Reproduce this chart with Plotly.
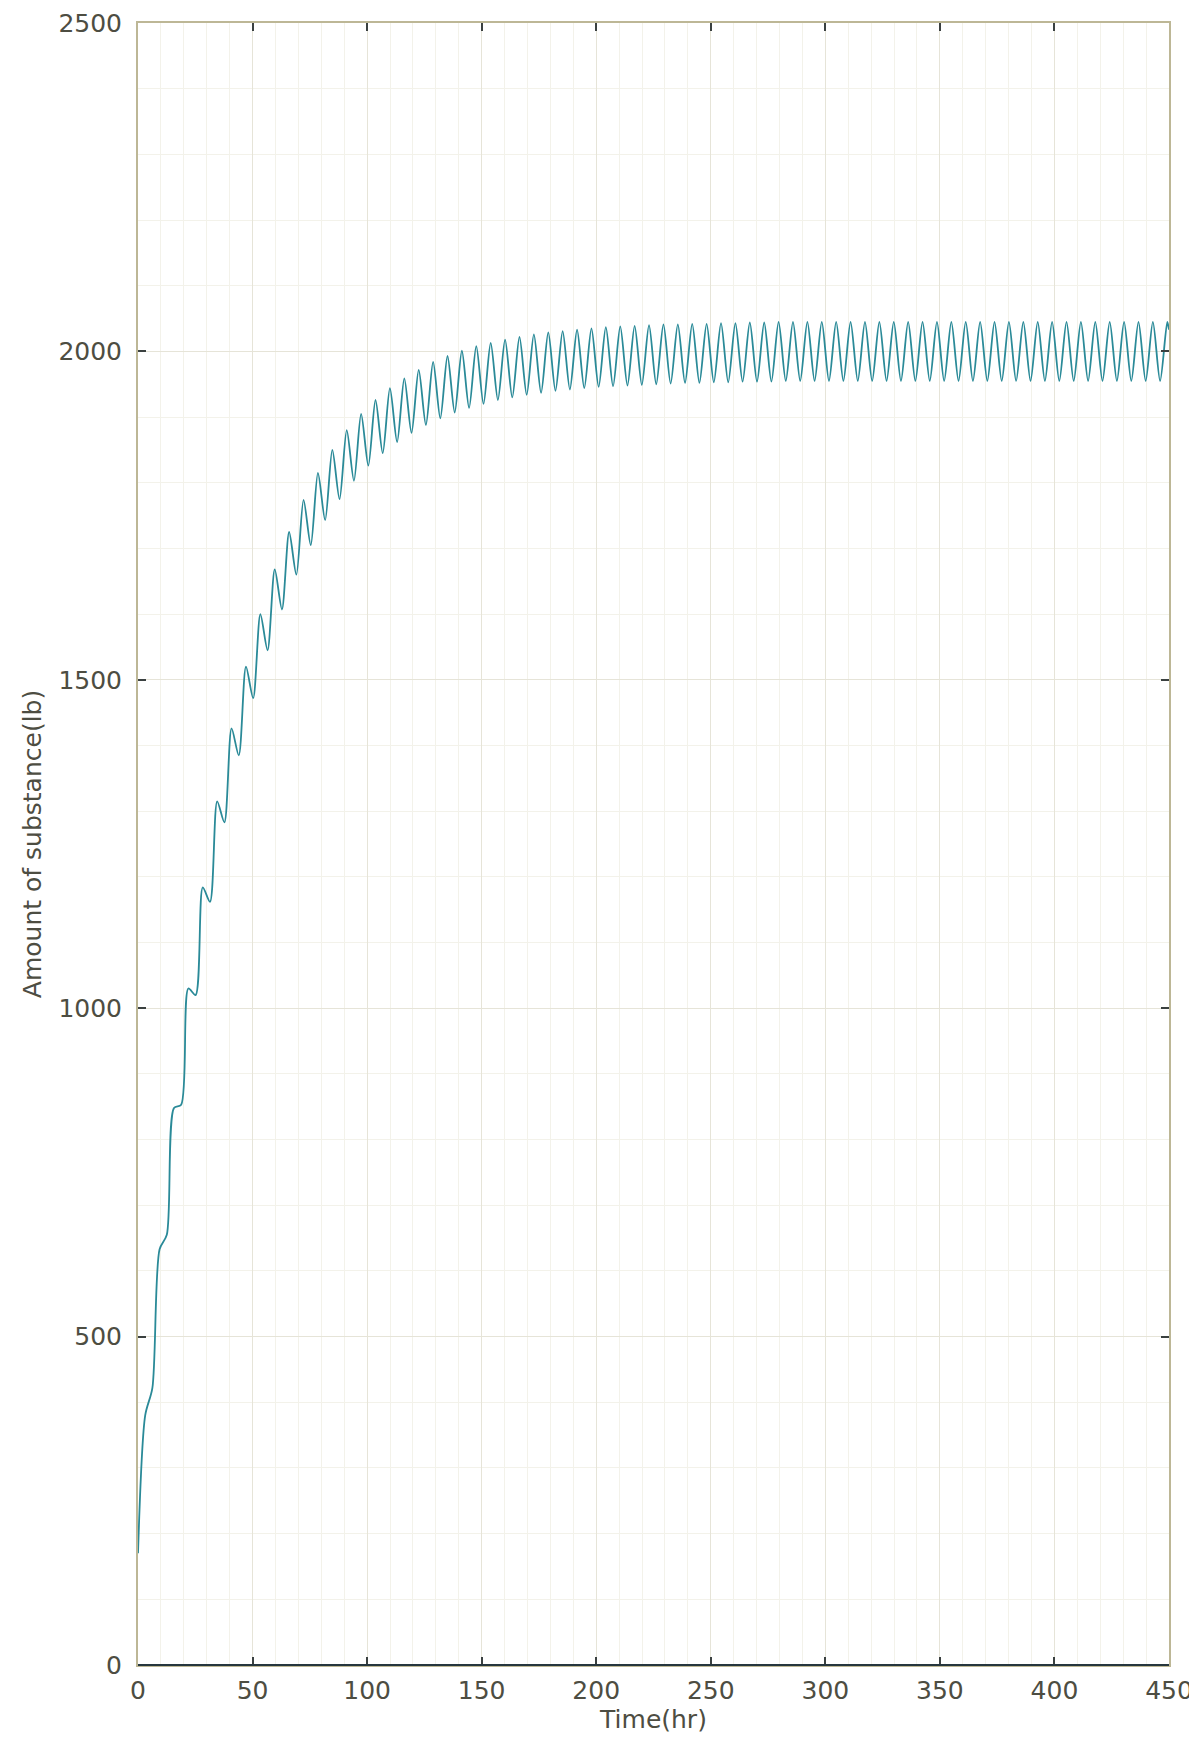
import plotly.graph_objects as go

# Time (hr) of successive turning points
time_hr = [
    0, 3.14, 6.28, 9.42, 12.57, 15.71, 18.85, 21.99, 25.13, 28.27,
    31.42, 34.56, 37.70, 40.84, 43.98, 47.12, 50.27, 53.41, 56.55, 59.69,
    62.83, 65.97, 69.12, 72.26, 75.40, 78.54, 81.68, 84.82, 87.96, 91.11,
    94.25, 97.39, 100.53, 103.67, 106.81, 109.96, 113.10, 116.24, 119.38, 122.52,
    125.66, 128.81, 131.95, 135.09, 138.23, 141.37, 144.51, 147.65, 150.80, 153.94,
    157.08, 160.22, 163.36, 166.50, 169.65, 172.79, 175.93, 179.07, 182.21, 185.35,
    188.50, 191.64, 194.78, 197.92, 201.06, 204.20, 207.35, 210.49, 213.63, 216.77,
    219.91, 223.05, 226.19, 229.34, 232.48, 235.62, 238.76, 241.90, 245.04, 248.19,
    251.33, 254.47, 257.61, 260.75, 263.89, 267.04, 270.18, 273.32, 276.46, 279.60,
    282.74, 285.88, 289.03, 292.17, 295.31, 298.45, 301.59, 304.73, 307.88, 311.02,
    314.16, 317.30, 320.44, 323.58, 326.73, 329.87, 333.01, 336.15, 339.29, 342.43,
    345.58, 348.72, 351.86, 355.00, 358.14, 361.28, 364.42, 367.57, 370.71, 373.85,
    376.99, 380.13, 383.27, 386.42, 389.56, 392.70, 395.84, 398.98, 402.12, 405.27,
    408.41, 411.55, 414.69, 417.83, 420.97, 424.12, 427.26, 430.40, 433.54, 436.68,
    439.82, 442.96, 446.11, 449.25, 450.0,
]

# Amount of substance (lb) at those points
amount_lb = [
    170, 380, 422, 633, 655, 848, 853, 1030, 1020, 1184,
    1162, 1315, 1283, 1426, 1385, 1520, 1472, 1600, 1545, 1668,
    1607, 1725, 1660, 1774, 1705, 1815, 1743, 1850, 1775, 1880,
    1803, 1905, 1826, 1926, 1845, 1944, 1862, 1959, 1876, 1972,
    1888, 1984, 1898, 1993, 1907, 2001, 1914, 2008, 1920, 2013,
    1926, 2018, 1930, 2022, 1934, 2026, 1937, 2029, 1940, 2031,
    1942, 2033, 1944, 2035, 1946, 2037, 1947, 2038, 1948, 2039,
    1949, 2040, 1950, 2041, 1951, 2041, 1952, 2042, 1952, 2042,
    1953, 2043, 1953, 2043, 1954, 2044, 1954, 2044, 1954, 2045,
    1955, 2045, 1955, 2045, 1955, 2045, 1955, 2045, 1955, 2045,
    1955, 2045, 1955, 2045, 1955, 2045, 1955, 2045, 1955, 2045,
    1955, 2045, 1955, 2045, 1955, 2045, 1955, 2045, 1955, 2045,
    1955, 2045, 1955, 2045, 1955, 2045, 1955, 2045, 1955, 2045,
    1955, 2045, 1955, 2045, 1955, 2045, 1955, 2045, 1955, 2045,
    1955, 2045, 1955, 2045, 2033,
]

x_ticks = [0, 50, 100, 150, 200, 250, 300, 350, 400, 450]
y_ticks = [0, 500, 1000, 1500, 2000, 2500]

assert len(time_hr) == len(amount_lb)

FONT = "DejaVu Sans"
LABEL_COLOR = "#4d4d42"
FRAME_COLOR = "#bdb796"
FS = 25

fig = go.Figure()
fig.add_trace(go.Scatter(
    x=time_hr, y=amount_lb, mode="lines",
    line=dict(color="#2a8a98", width=1.8, shape="spline", smoothing=0.8),
    showlegend=False,
))

axis_common = dict(
    ticks="inside", ticklen=8, tickwidth=1.5, tickcolor="#3a4040",
    showline=True, linecolor=FRAME_COLOR, linewidth=2, mirror="ticks",
    showgrid=True, gridcolor="#e6e4d8", gridwidth=1, zeroline=False,
    automargin=False,
    tickfont=dict(family=FONT, size=FS, color=LABEL_COLOR),
)

fig.update_xaxes(
    range=[0, 450], tickvals=x_ticks, ticktext=[str(v) for v in x_ticks],
    minor=dict(dtick=10, tick0=0, showgrid=True, gridcolor="#f3f2ea", ticks=""),
    ticklabelstandoff=2,
    title=dict(text="Time(hr)", font=dict(family=FONT, size=FS, color=LABEL_COLOR), standoff=2),
    **axis_common,
)
fig.update_yaxes(
    range=[0, 2500], tickvals=y_ticks, ticktext=[str(v) for v in y_ticks],
    minor=dict(dtick=100, tick0=0, showgrid=True, gridcolor="#f3f2ea", ticks=""),
    ticklabelstandoff=9,
    title=dict(text="Amount of substance(lb)", font=dict(family=FONT, size=FS, color=LABEL_COLOR), standoff=10),
    **axis_common,
)

# darker bottom frame line as in the reference
fig.add_shape(type="line", xref="paper", yref="paper", x0=0, x1=1, y0=0, y1=0,
              line=dict(color="#26363e", width=2))

# the page body adds an 8px offset; margins compensate so the frame sits
# where the reference frame is
fig.update_layout(
    width=1189, height=1726, autosize=False,
    margin=dict(l=130, r=28, t=15, b=69),
    plot_bgcolor="white", paper_bgcolor="white",
)

fig.write_html("out.html")
